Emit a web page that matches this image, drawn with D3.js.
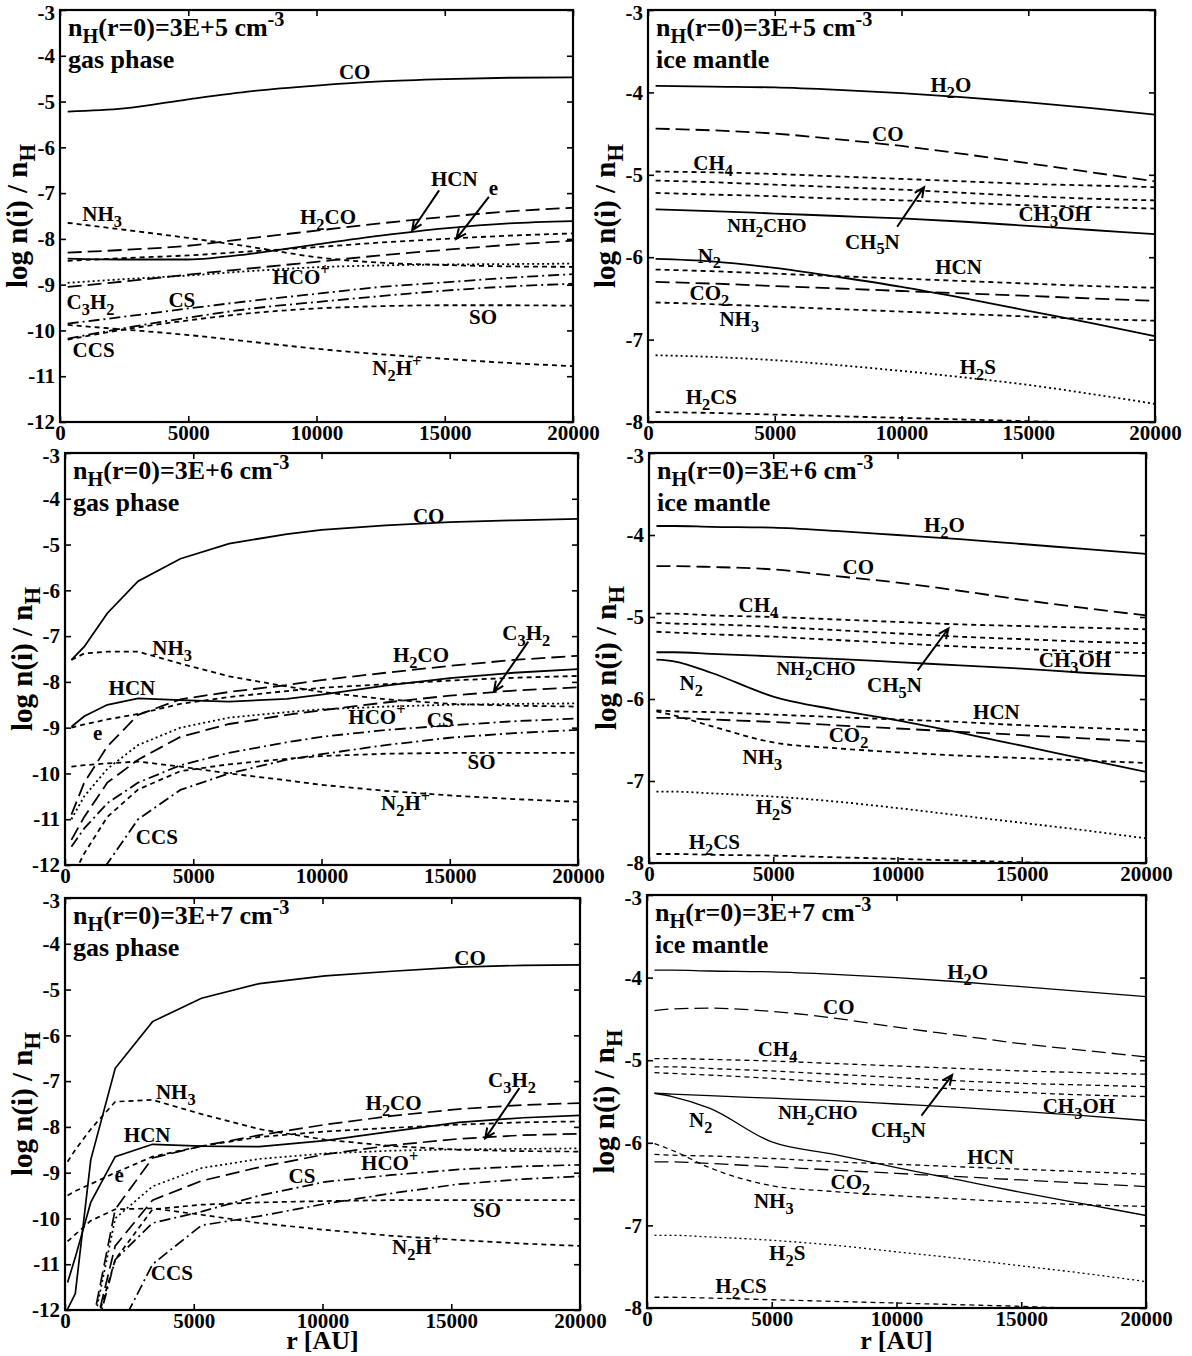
<!DOCTYPE html>
<meta charset="utf-8">
<title>Gas and ice abundance profiles</title>
<style>
body { margin: 0; background: #fff; }
svg text { font-family: "Liberation Serif", "Times New Roman", serif; font-weight: bold; fill: #000; }
</style>
<svg width="1192" height="1356"></svg>
<script src="https://d3js.org/d3.v7.min.js"></script>
<script>
// ---- radius grids [AU] ----
var rGas5 = [300, 2500, 5000, 7500, 10000, 12500, 15000, 17500, 20000];
var rIce5 = [300, 2500, 5000, 7500, 10000, 12500, 15000, 17500, 20000];
var rGas6 = [250, 750, 1650, 2850, 4500, 6400, 8650, 10000, 12500, 15000, 17500, 20000];
var rIce6 = [300, 1000, 2500, 5000, 7500, 10000, 12500, 15000, 17500, 20000];
var rGas7 = [100, 400, 1000, 1950, 3400, 5300, 7550, 10100, 12700, 15300, 17800, 20000];
var rIce7 = [300, 1000, 2500, 5000, 7500, 10000, 12500, 15000, 17500, 20000];

// ---- log abundances, n_H(r=0)=3E+5 ----
var gas5 = [
  ["CO",   [-5.22, -5.15, -4.95, -4.77, -4.65, -4.56, -4.51, -4.48, -4.47]],
  ["H2CO", [-8.30, -8.24, -8.15, -7.98, -7.82, -7.66, -7.52, -7.40, -7.32]],
  ["HCN",  [-8.43, -8.45, -8.45, -8.32, -8.12, -7.93, -7.77, -7.66, -7.61]],
  ["e",    [-8.48, -8.42, -8.36, -8.27, -8.18, -8.08, -8.00, -7.93, -7.88]],
  ["C3H2", [-9.05, -8.93, -8.78, -8.64, -8.50, -8.36, -8.24, -8.13, -8.04]],
  ["HCOp", [-8.96, -8.88, -8.80, -8.70, -8.62, -8.58, -8.56, -8.55, -8.54]],
  ["NH3",  [-7.65, -7.80, -7.98, -8.18, -8.40, -8.52, -8.57, -8.60, -8.61]],
  ["CS",   [-9.85, -9.70, -9.52, -9.35, -9.20, -9.05, -8.95, -8.85, -8.77]],
  ["CCS",  [-10.18, -9.95, -9.72, -9.52, -9.38, -9.25, -9.13, -9.04, -8.98]],
  ["SO",   [-10.20, -9.98, -9.78, -9.62, -9.52, -9.47, -9.45, -9.45, -9.46]],
  ["N2Hp", [-9.88, -9.98, -10.10, -10.25, -10.40, -10.52, -10.62, -10.71, -10.78]]
];
var ice5 = [
  ["H2O",    [-3.92, -3.93, -3.94, -3.97, -4.01, -4.06, -4.12, -4.19, -4.27]],
  ["CO",     [-4.44, -4.46, -4.50, -4.57, -4.65, -4.75, -4.86, -4.97, -5.08]],
  ["CH4",    [-4.96, -4.97, -4.99, -5.02, -5.05, -5.08, -5.11, -5.13, -5.15]],
  ["CH5N",   [-5.07, -5.09, -5.12, -5.15, -5.18, -5.22, -5.26, -5.29, -5.31]],
  ["NH2CHO", [-5.22, -5.24, -5.26, -5.29, -5.31, -5.34, -5.37, -5.39, -5.41]],
  ["CH3OH",  [-5.42, -5.44, -5.47, -5.50, -5.53, -5.57, -5.62, -5.67, -5.72]],
  ["N2",     [-6.02, -6.05, -6.13, -6.24, -6.36, -6.50, -6.65, -6.80, -6.96]],
  ["HCN",    [-6.15, -6.17, -6.20, -6.23, -6.26, -6.29, -6.32, -6.35, -6.37]],
  ["CO2",    [-6.30, -6.32, -6.35, -6.38, -6.41, -6.44, -6.47, -6.50, -6.53]],
  ["NH3",    [-6.55, -6.57, -6.60, -6.63, -6.66, -6.69, -6.72, -6.75, -6.77]],
  ["H2S",    [-7.19, -7.21, -7.25, -7.31, -7.38, -7.46, -7.55, -7.66, -7.78]],
  ["H2CS",   [-7.88, -7.89, -7.91, -7.93, -7.95, -7.97, -7.99, -8.01, -8.03]]
];

// ---- n_H(r=0)=3E+6 ----
var gas6 = [
  ["CO",   [-7.52, -7.23, -6.50, -5.80, -5.31, -4.98, -4.77, -4.68, -4.58, -4.51, -4.47, -4.44]],
  ["NH3",  [-7.52, -7.38, -7.34, -7.34, -7.60, -7.88, -8.10, -8.22, -8.38, -8.48, -8.52, -8.54]],
  ["HCN",  [-8.98, -8.75, -8.50, -8.36, -8.40, -8.43, -8.37, -8.28, -8.08, -7.92, -7.80, -7.72]],
  ["e",    [-9.00, -8.93, -8.82, -8.70, -8.48, -8.33, -8.20, -8.13, -8.05, -7.97, -7.91, -7.87]],
  ["H2CO", [-10.90, -10.20, -9.41, -8.72, -8.38, -8.22, -8.07, -7.96, -7.80, -7.65, -7.52, -7.43]],
  ["C3H2", [-11.45, -10.95, -10.20, -9.70, -9.20, -8.92, -8.72, -8.62, -8.45, -8.30, -8.19, -8.12]],
  ["HCOp", [-11.00, -10.50, -9.90, -9.38, -9.00, -8.78, -8.66, -8.60, -8.54, -8.50, -8.48, -8.47]],
  ["CS",   [-11.60, -11.20, -10.65, -10.20, -9.82, -9.55, -9.32, -9.20, -9.05, -8.95, -8.86, -8.80]],
  ["CCS",  [-12.60, -12.40, -11.97, -11.00, -10.36, -10.00, -9.70, -9.58, -9.38, -9.22, -9.12, -9.05]],
  ["SO",   [-12.30, -11.75, -10.95, -10.35, -9.95, -9.80, -9.68, -9.62, -9.57, -9.55, -9.55, -9.55]],
  ["N2Hp", [-9.85, -9.82, -9.78, -9.74, -9.85, -10.00, -10.15, -10.25, -10.38, -10.48, -10.56, -10.62]]
];
var ice6 = [
  ["H2O",    [-3.89, -3.89, -3.90, -3.91, -3.95, -4.00, -4.05, -4.11, -4.17, -4.23]],
  ["CO",     [-4.38, -4.38, -4.39, -4.42, -4.50, -4.58, -4.68, -4.79, -4.89, -4.98]],
  ["CH4",    [-4.96, -4.96, -4.98, -5.00, -5.03, -5.06, -5.09, -5.11, -5.13, -5.15]],
  ["CH5N",   [-5.07, -5.08, -5.09, -5.12, -5.16, -5.20, -5.24, -5.27, -5.30, -5.32]],
  ["NH2CHO", [-5.18, -5.19, -5.21, -5.24, -5.28, -5.32, -5.36, -5.39, -5.42, -5.44]],
  ["CH3OH",  [-5.43, -5.43, -5.45, -5.48, -5.51, -5.55, -5.59, -5.63, -5.68, -5.72]],
  ["N2",     [-5.52, -5.54, -5.68, -5.97, -6.13, -6.26, -6.41, -6.57, -6.73, -6.89]],
  ["HCN",    [-6.14, -6.15, -6.16, -6.19, -6.22, -6.25, -6.28, -6.32, -6.35, -6.38]],
  ["CO2",    [-6.23, -6.23, -6.25, -6.28, -6.32, -6.36, -6.40, -6.44, -6.48, -6.52]],
  ["NH3",    [-6.15, -6.20, -6.33, -6.53, -6.60, -6.65, -6.69, -6.72, -6.75, -6.78]],
  ["H2S",    [-7.13, -7.13, -7.15, -7.19, -7.25, -7.33, -7.42, -7.51, -7.60, -7.70]],
  ["H2CS",   [-7.89, -7.89, -7.90, -7.91, -7.93, -7.95, -7.97, -7.99, -8.01, -8.03]]
];

// ---- n_H(r=0)=3E+7 ----
var gas7 = [
  ["CO",   [-11.98, -11.64, -8.72, -6.72, -5.70, -5.19, -4.87, -4.70, -4.60, -4.51, -4.47, -4.46]],
  ["HCN",  [-11.40, -10.85, -9.65, -8.65, -8.38, -8.42, -8.43, -8.30, -8.10, -7.90, -7.80, -7.75]],
  ["NH3",  [-8.76, -8.50, -8.05, -7.45, -7.41, -7.72, -8.05, -8.28, -8.42, -8.50, -8.53, -8.54]],
  ["e",    [-9.50, -9.40, -9.25, -9.00, -8.65, -8.42, -8.22, -8.10, -8.02, -7.95, -7.90, -7.88]],
  ["H2CO", [-13.50, -13.20, -12.50, -9.80, -8.68, -8.42, -8.18, -7.95, -7.76, -7.61, -7.52, -7.48]],
  ["C3H2", [-14.00, -13.50, -12.80, -10.60, -9.60, -9.18, -8.88, -8.60, -8.40, -8.26, -8.18, -8.15]],
  ["HCOp", [-14.00, -13.50, -12.60, -10.00, -9.30, -8.90, -8.70, -8.58, -8.52, -8.49, -8.48, -8.47]],
  ["CS",   [-14.00, -13.50, -12.90, -10.90, -10.10, -9.85, -9.50, -9.20, -9.05, -8.93, -8.86, -8.83]],
  ["CCS",  [-15.00, -14.50, -13.80, -12.60, -11.00, -10.15, -9.95, -9.68, -9.45, -9.25, -9.14, -9.08]],
  ["SO",   [-14.00, -13.50, -12.70, -10.90, -9.80, -9.70, -9.65, -9.62, -9.60, -9.60, -9.60, -9.60]],
  ["N2Hp", [-10.50, -10.35, -10.05, -9.80, -9.78, -9.92, -10.10, -10.25, -10.38, -10.47, -10.55, -10.60]]
];
var ice7 = [
  ["H2O",    [-3.91, -3.91, -3.92, -3.93, -3.96, -4.00, -4.05, -4.11, -4.17, -4.23]],
  ["CO",     [-4.40, -4.38, -4.37, -4.41, -4.49, -4.60, -4.70, -4.80, -4.88, -4.96]],
  ["CH4",    [-4.98, -4.98, -4.99, -5.01, -5.04, -5.07, -5.10, -5.13, -5.15, -5.17]],
  ["CH5N",   [-5.08, -5.08, -5.10, -5.13, -5.17, -5.21, -5.25, -5.28, -5.30, -5.32]],
  ["NH2CHO", [-5.15, -5.16, -5.18, -5.22, -5.27, -5.31, -5.35, -5.39, -5.42, -5.44]],
  ["CH3OH",  [-5.40, -5.41, -5.43, -5.46, -5.49, -5.53, -5.57, -5.62, -5.67, -5.73]],
  ["N2",     [-5.40, -5.44, -5.58, -5.99, -6.14, -6.30, -6.45, -6.60, -6.74, -6.88]],
  ["HCN",    [-6.14, -6.15, -6.16, -6.19, -6.23, -6.26, -6.29, -6.32, -6.35, -6.38]],
  ["CO2",    [-6.23, -6.23, -6.25, -6.29, -6.33, -6.37, -6.41, -6.45, -6.49, -6.53]],
  ["NH3",    [-6.01, -6.09, -6.30, -6.52, -6.59, -6.64, -6.68, -6.72, -6.75, -6.77]],
  ["H2S",    [-7.12, -7.12, -7.14, -7.18, -7.24, -7.32, -7.40, -7.49, -7.58, -7.68]],
  ["H2CS",   [-7.87, -7.87, -7.88, -7.90, -7.92, -7.94, -7.96, -7.98, -8.01, -8.03]]
];

// ---- labels [text, r, log n] and arrows [r1, v1, r2, v2] ----
var gas5Labels = [["CO", 11490, -4.35], ["NH_{3}", 1640, -7.45], ["H_{2}CO", 10450, -7.52], ["HCN", 15370, -6.7],
  ["e", 16900, -6.88], ["HCO^{+}", 9400, -8.83], ["C_{3}H_{2}", 1190, -9.38], ["CS", 4750, -9.34],
  ["SO", 16490, -9.7], ["CCS", 1310, -10.43], ["N_{2}H^{+}", 13130, -10.83]];
var gas5Arrows = [[14780, -6.94, 13730, -7.81], [16720, -7.08, 15450, -8.0]];
var ice5Labels = [["H_{2}O", 11950, -3.91], ["CO", 9460, -4.5], ["CH_{4}", 2570, -4.86], ["CH_{3}OH", 16040, -5.48],
  ["NH_{2}CHO", 4690, -5.61], ["CH_{5}N", 8850, -5.81], ["N_{2}", 2420, -5.98], ["HCN", 12250, -6.12],
  ["CO_{2}", 2420, -6.43], ["NH_{3}", 3600, -6.75], ["H_{2}S", 13010, -7.33], ["H_{2}CS", 2500, -7.7]];
var ice5Arrows = [[9830, -5.63, 10890, -5.15]];
var gas6Labels = [["CO", 14180, -4.37], ["NH_{3}", 4180, -7.26], ["H_{2}CO", 13880, -7.41], ["C_{3}H_{2}", 17985, -6.94],
  ["HCN", 2610, -8.14], ["e", 1270, -9.11], ["HCO^{+}", 12160, -8.76], ["CS", 14630, -8.83],
  ["SO", 16240, -9.74], ["N_{2}H^{+}", 13280, -10.65], ["CCS", 3580, -11.38]];
var gas6Arrows = [[18060, -7.12, 16720, -8.21]];
var ice6Labels = [["H_{2}O", 11890, -3.88], ["CO", 8420, -4.39], ["CH_{4}", 4400, -4.85], ["CH_{3}OH", 17140, -5.53],
  ["NH_{2}CHO", 6720, -5.62], ["CH_{5}N", 9880, -5.83], ["N_{2}", 1700, -5.81], ["HCN", 13980, -6.16],
  ["CO_{2}", 8030, -6.44], ["NH_{3}", 4560, -6.71], ["H_{2}S", 5020, -7.32], ["H_{2}CS", 2630, -7.74]];
var ice6Arrows = [[10810, -5.65, 12050, -5.14]];
var gas7Labels = [["CO", 15730, -4.31], ["NH_{3}", 4300, -7.23], ["H_{2}CO", 12760, -7.48], ["C_{3}H_{2}", 17360, -6.97],
  ["HCN", 3190, -8.17], ["e", 2100, -9.05], ["HCO^{+}", 12610, -8.79], ["CS", 9200, -9.08],
  ["SO", 16390, -9.81], ["N_{2}H^{+}", 13650, -10.62], ["CCS", 4150, -11.2]];
var gas7Arrows = [[17650, -7.15, 16320, -8.25]];
var ice7Labels = [["H_{2}O", 12850, -3.93], ["CO", 7690, -4.35], ["CH_{4}", 5230, -4.86], ["CH_{3}OH", 17310, -5.55],
  ["NH_{2}CHO", 6850, -5.63], ["CH_{5}N", 10080, -5.85], ["N_{2}", 2150, -5.73], ["HCN", 13770, -6.17],
  ["CO_{2}", 8150, -6.47], ["NH_{3}", 5080, -6.7], ["H_{2}S", 5620, -7.34], ["H_{2}CS", 3770, -7.73]];
var ice7Arrows = [[11000, -5.67, 12230, -5.18]];

var xTicks = [0, 5000, 10000, 15000, 20000];

// line styles
var dashes = {solid: null, long: "14,6", short: "5,4", dot: "2,3", dashdot: "11,4,2,4"};
var gasStyle = {CO: "solid", HCN: "solid", H2CO: "long", C3H2: "long", e: "short", NH3: "short",
  SO: "short", N2Hp: "short", HCOp: "dot", CS: "dashdot", CCS: "dashdot"};
var iceStyle = {H2O: "solid", CH3OH: "solid", N2: "solid", CO: "long", CO2: "long", CH4: "short",
  CH5N: "short", NH2CHO: "short", HCN: "short", NH3: "short", H2CS: "short", H2S: "dot"};

var svg = d3.select("svg");

// text with _{sub} and ^{sup} parts
function rich(t, str, fs) {
  var re = /([_^])\{([^}]*)\}|([^_^]+)/g, m, shift = 0;
  while ((m = re.exec(str))) {
    if (m[3]) {
      t.append("tspan").attr("dy", -shift).attr("font-size", fs).text(m[3]);
      shift = 0;
    } else {
      var d = m[1] === "_" ? fs * 0.28 : -fs * 0.4;
      t.append("tspan").attr("dy", d - shift).attr("font-size", fs * 0.78).text(m[2]);
      shift = d;
    }
  }
  return t;
}

function makePanel(p) {
  var b = p.box;
  var x = d3.scaleLinear().domain([0, 20000]).range([b.x, b.x + b.w]);
  var y = d3.scaleLinear().domain(p.yDomain).range([b.y + b.h, b.y]);
  var g = svg.append("g");

  svg.append("clipPath").attr("id", "clip" + p.id)
    .append("rect").attr("x", b.x).attr("y", b.y).attr("width", b.w).attr("height", b.h);

  var line = d3.line()
    .x(function(d, i) { return x(p.r[i]); })
    .y(function(d) { return y(d); })
    .curve(p.curve);

  g.append("g").attr("clip-path", "url(#clip" + p.id + ")")
    .selectAll("path").data(p.series).enter().append("path")
      .attr("d", function(s) { return line(s[1]); })
      .attr("fill", "none")
      .attr("stroke", "#000")
      .attr("stroke-width", p.lw)
      .attr("stroke-dasharray", function(s) { return dashes[p.style[s[0]]]; });

  var yTicks = d3.range(p.yDomain[0], p.yDomain[1] + 1);
  var fmt = function(d) { return String(d); };

  var ax = g.append("g").attr("transform", "translate(0," + (b.y + b.h) + ")")
    .call(d3.axisBottom(x).tickValues(xTicks).tickSize(-6).tickPadding(3).tickFormat(fmt));
  var ay = g.append("g").attr("transform", "translate(" + b.x + ",0)")
    .call(d3.axisLeft(y).tickValues(yTicks).tickSize(-6).tickPadding(5).tickFormat(fmt));
  g.append("g").attr("transform", "translate(0," + b.y + ")")
    .call(d3.axisTop(x).tickValues(xTicks).tickSize(-6).tickFormat(""));
  g.append("g").attr("transform", "translate(" + (b.x + b.w) + ",0)")
    .call(d3.axisRight(y).tickValues(yTicks).tickSize(-6).tickFormat(""));
  g.selectAll(".domain").remove();
  g.selectAll(".tick line").attr("stroke-width", 1.6);
  ax.attr("font-size", 21).attr("font-family", null);
  ay.attr("font-size", 21).attr("font-family", null);
  // top label sits a little lower, as in the original
  ay.selectAll(".tick text").filter(function(d) { return d === p.yDomain[1]; }).attr("dy", "0.45em");

  g.append("rect").attr("x", b.x).attr("y", b.y).attr("width", b.w).attr("height", b.h)
    .attr("fill", "none").attr("stroke", "#000").attr("stroke-width", 2.2);

  // panel title
  rich(g.append("text").attr("x", b.x + 8).attr("y", b.y + 26), p.title, 26);
  g.append("text").attr("x", b.x + 8).attr("y", b.y + 58).attr("font-size", 26).text(p.phase);

  // y title
  rich(g.append("text").attr("text-anchor", "middle")
    .attr("transform", "translate(" + (b.x - 33) + "," + (b.y + b.h / 2) + ") rotate(-90)"), "log n(i) / n_{H}", 29);

  if (p.xTitle) {
    g.append("text").attr("text-anchor", "middle")
      .attr("x", b.x + b.w / 2).attr("y", 1349)
      .attr("font-size", 26).text("r [AU]");
  }

  // species labels
  p.labels.forEach(function(l) {
    var fs = l[0] === "NH_{2}CHO" ? 19 : 21;
    rich(g.append("text").attr("text-anchor", "middle")
      .attr("x", x(l[1])).attr("y", y(l[2]) + 7), l[0], fs);
  });

  // arrows
  p.arrows.forEach(function(a) {
    var x1 = x(a[0]), y1 = y(a[1]), x2 = x(a[2]), y2 = y(a[3]);
    var ang = Math.atan2(y2 - y1, x2 - x1), L = 11, s = 0.42;
    g.append("path")
      .attr("d", "M" + x1 + "," + y1 + "L" + x2 + "," + y2 +
        "M" + (x2 - L * Math.cos(ang - s)) + "," + (y2 - L * Math.sin(ang - s)) +
        "L" + x2 + "," + y2 +
        "L" + (x2 - L * Math.cos(ang + s)) + "," + (y2 - L * Math.sin(ang + s)))
      .attr("fill", "none").attr("stroke", "#000").attr("stroke-width", 2);
  });
}

makePanel({id: 1, box: {x: 60, y: 10, w: 513, h: 412}, yDomain: [-12, -3], r: rGas5, series: gas5,
  style: gasStyle, curve: d3.curveMonotoneX, lw: 1.8, title: "n_{H}(r=0)=3E+5 cm^{-3}", phase: "gas phase",
  labels: gas5Labels, arrows: gas5Arrows});
makePanel({id: 2, box: {x: 648, y: 10, w: 507, h: 412}, yDomain: [-8, -3], r: rIce5, series: ice5,
  style: iceStyle, curve: d3.curveMonotoneX, lw: 1.8, title: "n_{H}(r=0)=3E+5 cm^{-3}", phase: "ice mantle",
  labels: ice5Labels, arrows: ice5Arrows});
makePanel({id: 3, box: {x: 65, y: 453, w: 513, h: 412}, yDomain: [-12, -3], r: rGas6, series: gas6,
  style: gasStyle, curve: d3.curveLinear, lw: 1.8, title: "n_{H}(r=0)=3E+6 cm^{-3}", phase: "gas phase",
  labels: gas6Labels, arrows: gas6Arrows});
makePanel({id: 4, box: {x: 649, y: 453, w: 497, h: 410}, yDomain: [-8, -3], r: rIce6, series: ice6,
  style: iceStyle, curve: d3.curveMonotoneX, lw: 1.8, title: "n_{H}(r=0)=3E+6 cm^{-3}", phase: "ice mantle",
  labels: ice6Labels, arrows: ice6Arrows});
makePanel({id: 5, box: {x: 65, y: 898, w: 515, h: 412}, yDomain: [-12, -3], r: rGas7, series: gas7,
  style: gasStyle, curve: d3.curveLinear, lw: 1.7, title: "n_{H}(r=0)=3E+7 cm^{-3}", phase: "gas phase",
  labels: gas7Labels, arrows: gas7Arrows, xTitle: true});
makePanel({id: 6, box: {x: 647, y: 895, w: 499, h: 413}, yDomain: [-8, -3], r: rIce7, series: ice7,
  style: iceStyle, curve: d3.curveMonotoneX, lw: 1.3, title: "n_{H}(r=0)=3E+7 cm^{-3}", phase: "ice mantle",
  labels: ice7Labels, arrows: ice7Arrows, xTitle: true});
</script>
